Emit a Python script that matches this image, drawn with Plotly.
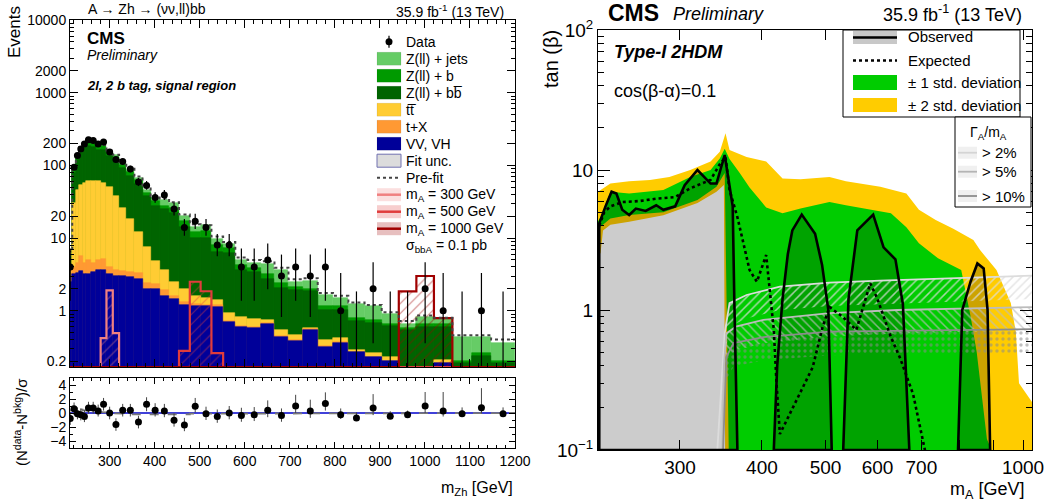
import math
import numpy as np
import plotly.graph_objects as go

W, H = 1062, 501
FONT = "Liberation Sans"

# ===================== LEFT PANEL DATA (m_Zh distribution) =====================
bin_edges = [208, 217, 225, 232, 240, 248, 258, 269, 280, 293, 307, 321, 337, 355,
             373, 391, 411, 432, 454, 478, 502, 526, 552, 579, 606, 636, 666, 697,
             729, 762, 796, 830, 866, 904, 942, 981, 1020, 1061, 1104, 1147, 1200]
data_counts = [4, 94, 137, 168, 197, 225, 219, 197, 209, 153,
               120, 113, 89, 59, 53, 36, 39, 25, 14, 17,
               14, 8, 8, 4, 4, 5, 3, 4, 3, 4,
               1, 0, 2, 0, 0, 2, 1, 0, 1, 0]
vv_vh = [2.5, 3.2, 3.3, 3.5, 3.2, 3.2, 3.4, 3.6, 3.6, 3.2,
         3.0, 3.0, 2.9, 2.7, 2.0, 2.0, 1.6, 1.45, 1.2, 1.17,
         1.15, 1.13, 0.7, 0.6, 0.58, 0.66, 0.44, 0.38, 0.55, 0.32,
         0.36, 0.27, 0.23, 0.2, 0.08, 0.08, 0.19, 0.04, 0.04, 0.04]
t_x = [0.5, 0.8, 1.2, 2.1, 1.3, 1.8, 1.2, 1.4, 1.6, 0.8,
       0.6, 0.5, 0.5, 0.6, 0.4, 0.3, 0.3, 0.15, 0.1, 0.08,
       0.05, 0.05, 0.02, 0.02, 0.02, 0.02, 0.01, 0.01, 0.01, 0.01,
       0.01, 0, 0, 0, 0, 0, 0, 0, 0, 0]
ttbar = [1.0, 26, 41.5, 48.4, 53.5, 55, 56.4, 56, 52.8, 46,
         34.4, 22.5, 14.6, 8.7, 5.1, 2.5, 1.7, 0.9, 0.7, 0.35,
         0.3, 0.24, 0.21, 0.2, 0.17, 0.07, 0.1, 0.08, 0.01, 0.07,
         0.05, 0.02, 0.03, 0.03, 0.02, 0.02, 0.02, 0.01, 0.01, 0.01]
z_bb = [1.0, 48, 74, 96, 114, 125, 119, 104, 107, 83,
        80, 66, 54, 44, 30.5, 23.2, 21.4, 19.5, 12, 8.4,
        8.5, 5.1, 5.3, 2.8, 2.6, 1.95, 1.5, 1.43, 1.27, 0.63,
        0.61, 0.42, 0.42, 0.38, 0.45, 0.5, 0.39, 0.14, 0.19, 0.14]
z_b = [0.5, 6, 10, 12, 16, 18, 18, 17, 17, 13,
       12, 10, 8, 7, 4, 4, 3, 4, 3, 2,
       2.5, 1.5, 1.0, 0.6, 0.5, 0.5, 0.35, 0.2, 0.16, 0.12,
       0.12, 0.09, 0.07, 0.05, 0.03, 0.05, 0.05, 0.01, 0.02, 0.01]
z_jets = [0.5, 6, 8, 9, 12, 12, 12, 11, 10, 9,
          8, 7, 6, 5, 4, 3, 5, 4, 3, 2,
          2.5, 1.6, 1.1, 0.7, 0.7, 1.2, 1.2, 0.4, 0.6, 0.5,
          0.35, 0.45, 0.4, 0.24, 0.08, 0.17, 0.12, 0.23, 0.17, 0.16]
prefit_total = [6.5, 95, 145, 178, 205, 218, 212, 198, 190, 160,
                140, 112, 90, 70, 50, 38, 35, 31, 21, 15.5,
                15, 10.5, 8.8, 5.4, 5.0, 4.8, 3.9, 2.7, 2.8, 1.75,
                1.6, 1.3, 1.2, 0.95, 0.72, 0.86, 0.8, 0.46, 0.46, 0.4]
sig_300 = [0, 0, 0, 0, 0, 0, 0, 0, 0.42, 1.9,
           0.49, 0, 0, 0, 0, 0, 0, 0, 0, 0,
           0, 0, 0, 0, 0, 0, 0, 0, 0, 0,
           0, 0, 0, 0, 0, 0, 0, 0, 0, 0]
sig_500 = [0, 0, 0, 0, 0, 0, 0, 0, 0, 0,
           0, 0, 0, 0, 0, 0, 0, 0, 0.28, 2.5,
           1.85, 0.26, 0, 0, 0, 0, 0, 0, 0, 0,
           0, 0, 0, 0, 0, 0, 0, 0, 0, 0]
sig_1000 = [0, 0, 0, 0, 0, 0, 0, 0, 0, 0,
            0, 0, 0, 0, 0, 0, 0, 0, 0, 0,
            0, 0, 0, 0, 0, 0, 0, 0, 0, 0,
            0, 0, 0, 0, 1.84, 3.0, 0.79, 0, 0, 0]
pull = [-0.8, 0.6, -0.1, -0.25, -0.5, 0.7, 0.7, 0.3, 1.25, 0.0,
        -1.65, 0.4, 0.4, -1.3, 1.25, 0.4, 0.3, -1.05, -1.7, 0.95,
        -0.1, -0.5, 0.0, -0.35, -0.25, 0.4, -0.35, 1.0, 0.3, 1.35,
        -0.25, -0.7, 0.7, -0.45, -0.25, 1.0, 0.3, -0.1, 0.75, -0.1]
pull_err_up = [1.0, 0.9, 0.9, 0.9, 0.9, 0.9, 0.9, 0.9, 0.9, 0.9,
               0.9, 0.9, 0.9, 0.9, 1.0, 1.0, 1.0, 1.0, 1.0, 1.2,
               1.0, 1.0, 1.0, 1.1, 1.1, 1.4, 1.0, 1.6, 1.6, 1.6,
               0.9, 0.8, 2.0, 0.7, 0.6, 2.0, 2.7, 0.9, 2.8, 0.9]
pull_err_dn = [0.9, 0.9, 0.8, 0.8, 0.8, 0.8, 0.8, 0.8, 0.9, 0.9,
               0.9, 0.9, 0.9, 0.9, 1.0, 0.9, 0.9, 0.9, 0.9, 0.9,
               0.9, 0.9, 0.9, 0.9, 0.9, 1.0, 0.9, 1.0, 1.0, 1.0,
               0.6, 0.0, 1.0, 0.0, 0.0, 1.0, 0.8, 0.0, 0.8, 0.0]
prefit_pull = [0.4, 0.9, 0.6, 0.5, 0.4, 0.3, 0.2, 0.1, 0.1, 0.0,
               0.0, -0.1, -0.2, -0.25, -0.2, -0.2, -0.25, -0.25, -0.2, -0.1,
               -0.1, -0.1, 0.0, 0.0, 0.0, 0.0, 0.0, 0.0, 0.0, 0.0,
               0.0, 0.0, 0.0, 0.0, 0.0, 0.0, 0.0, 0.0, 0.0, 0.0]
main_yticks = [0.2, 1, 2, 10, 20, 100, 200, 1000, 2000, 10000]
ratio_yticks = [-4, -2, 0, 2, 4]
ratio_xticks = [300, 400, 500, 600, 700, 800, 900, 1000, 1100, 1200]

# ===================== RIGHT PANEL DATA (tan(beta) vs m_A limits) =====================
exp_p2_x = [225, 227, 235, 251, 270, 289, 311, 334, 345, 352, 357, 379, 406, 430, 458,
            507, 537, 606, 664, 694, 736, 783, 840, 860, 911, 958, 975, 986, 1032]
exp_p2_y = [7.0, 7.2, 8.0, 8.3, 8.5, 8.9, 10.0, 11.5, 13.5, 18.3, 13.9, 12.4, 11.5, 8.7, 8.6,
            8.9, 8.3, 7.6, 6.8, 5.2, 4.4, 3.8, 3.16, 2.68, 1.93, 1.12, 0.7, 0.3, 0.22]
exp_m2_x = [225, 227, 229, 235, 251, 283, 319, 341, 350, 351.5, 1032]
exp_m2_y = [2.5, 2.54, 3.7, 4.06, 4.27, 4.76, 5.8, 7.0, 7.8, 0.1, 0.1]
exp_p1_x = [225, 227, 235, 251, 283, 311, 334, 345, 351, 357, 370, 383, 406, 430, 458,
            507, 537, 570, 629, 664, 694, 742, 805, 832, 850, 881, 895]
exp_p1_y = [4.3, 4.6, 7.0, 6.8, 7.2, 8.9, 10.0, 12.1, 14.2, 12.0, 9.5, 7.5, 5.4, 4.9, 5.3,
            5.9, 5.6, 5.3, 4.9, 3.9, 3.0, 2.34, 1.93, 0.9, 0.5, 0.12, 0.1]
exp_m1_x = [225, 227, 235, 251, 283, 319, 341, 351, 356, 1032]
exp_m1_y = [3.5, 3.94, 4.5, 4.77, 5.0, 6.1, 7.6, 9.5, 0.1, 0.1]
exp_x = [226, 230, 235, 245, 260, 277, 295, 311, 334, 345, 352, 357, 367, 383, 393, 406,
         417, 421, 426, 452, 478, 495, 507, 530, 557, 585, 600, 629, 650, 680, 700, 712]
exp_y = [4.0, 5.0, 5.5, 5.9, 6.0, 6.25, 6.4, 7.4, 8.5, 11.0, 12.4, 7.2, 4.6, 1.93, 1.59, 2.47,
         0.72, 0.3, 0.13, 0.23, 0.39, 0.76, 1.05, 0.9, 0.72, 1.55, 1.2, 0.64, 0.45, 0.25, 0.13, 0.09]
obs_a_x = [226, 226, 231, 236, 240, 245, 251, 257, 266, 276, 283, 295, 305, 319, 334, 341,
           351, 361, 363, 367]
obs_a_y = [0.1, 4.16, 5.5, 7.0, 6.8, 5.2, 4.77, 5.3, 5.1, 5.6, 5.2, 5.5, 7.8, 10.0, 8.0, 8.0,
           12.8, 5.5, 1.2, 0.1]
obs_b_x = [417, 422, 430, 438, 445, 460, 482, 494, 505, 511]
obs_b_y = [0.1, 0.4, 1.2, 2.5, 3.7, 4.8, 3.5, 2.1, 1.0, 0.1]
obs_c_x = [532, 542, 559, 591, 613, 639, 656, 671]
obs_c_y = [0.1, 1.2, 3.7, 4.8, 2.8, 2.3, 1.1, 0.1]
obs_d_x = [796, 808, 832, 852, 871, 883, 891]
obs_d_y = [0.1, 1.0, 1.6, 2.15, 1.98, 1.0, 0.1]
w2_x = [342, 348, 351, 357, 379, 426, 507, 606, 764, 1032]
w2_y = [0.1, 0.39, 0.68, 1.12, 1.28, 1.47, 1.57, 1.62, 1.68, 1.76]
w5_x = [348, 350, 353, 365, 402, 507, 643, 1032]
w5_y = [0.1, 0.4, 0.68, 0.76, 0.85, 0.95, 1.0, 1.05]
w10_x = [349, 353, 362, 402, 507, 642, 1032]
w10_y = [0.1, 0.46, 0.58, 0.64, 0.70, 0.71, 0.73]
right_xticks = [300, 400, 500, 600, 700, 800, 900, 1000]
right_xticktext = ["300", "400", "500", "600", "700", "", "", "1000"]
right_yticks = [0.1, 1, 10, 100]
right_yticktext = ["10<sup>\u22121</sup>", "1", "10", "10<sup>2</sup>"]

# ===================== STYLE / LAYOUT CONSTANTS =====================
LEFT_X = [212, 1200]
LEFT_Y_LOG = [-0.775, 4.0]
RIGHT_X_LOG = [math.log10(225), math.log10(1032)]
RIGHT_Y_LOG = [-1, 2]
LX_DOM = [70 / W, 515 / W]
LMAIN_Y_DOM = [1 - 367 / H, 1 - 20 / H]
LRATIO_Y_DOM = [1 - 448 / H, 1 - 378 / H]
RX_DOM = [598 / W, 1032 / W]
RY_DOM = [1 - 450 / H, 1 - 30 / H]
HATCH_BAND = 0.68   # hatched width band spans one factor of this below each line

C_ZJ, C_ZB, C_ZBB = "#66cc66", "#009a00", "#006400"
C_TT, C_TX, C_VV = "#ffcc33", "#ff9933", "#000099"
C_S300, C_S500, C_S1000 = "#f08080", "#e03c3c", "#a00000"
C_YEL, C_GRN = "#ffcc00", "#00cc00"

edges = np.array(bin_edges, dtype=float)
centers = 0.5 * (edges[:-1] + edges[1:])
widths = edges[1:] - edges[:-1]
floor_val = 10 ** LEFT_Y_LOG[0]

fig = go.Figure()

# ---- stacked backgrounds (cumulative, drawn from top layer down) ----
layers = [vv_vh, t_x, ttbar, z_bb, z_b, z_jets]
layer_cols = [C_VV, C_TX, C_TT, C_ZBB, C_ZB, C_ZJ]
cum = np.cumsum(np.array(layers, dtype=float), axis=0)
for i in range(len(layers) - 1, -1, -1):
    fig.add_trace(go.Bar(x=centers, y=cum[i], width=widths,
                         marker=dict(color=layer_cols[i], line=dict(color=layer_cols[i], width=0.6)),
                         xaxis="x", yaxis="y"))


def step(vals, fl=None):
    xs, ys = [], []
    for i, v in enumerate(vals):
        yv = v if (fl is None or v > 0) else fl
        xs += [edges[i], edges[i + 1]]
        ys += [yv, yv]
    return xs, ys


# ---- signals: hatched fill + outline ----
for sig, col in [(sig_300, C_S300), (sig_500, C_S500), (sig_1000, C_S1000)]:
    yv = [v if v > 0 else None for v in sig]
    fig.add_trace(go.Bar(x=centers, y=yv, width=widths,
                         marker=dict(color="rgba(0,0,0,0)", line=dict(width=0),
                                     pattern=dict(shape="/", fgcolor=col, bgcolor="rgba(0,0,0,0)",
                                                  size=7, solidity=0.15)),
                         xaxis="x", yaxis="y"))
    sx, sy = step(sig, floor_val)
    fig.add_trace(go.Scatter(x=sx, y=sy, mode="lines", line=dict(color=col, width=2.2),
                             xaxis="x", yaxis="y"))

# ---- pre-fit dotted ----
px_, py_ = step(prefit_total)
fig.add_trace(go.Scatter(x=px_, y=py_, mode="lines", line=dict(color="#444444", width=2, dash="dot"),
                         xaxis="x", yaxis="y"))

# ---- data with Garwood-like Poisson errors ----
GARWOOD_LO = [0.0, 0.173, 0.355, 0.818, 1.366, 1.970]
GARWOOD_HI = [1.841, 3.300, 4.638, 5.918, 7.163, 8.382]
d_y, e_up, e_dn = [], [], []
zx, zy = [], []
for c, n in zip(centers, data_counts):
    if n <= 5:
        lo, hi = GARWOOD_LO[n], GARWOOD_HI[n]
    else:
        s = math.sqrt(n + 0.25)
        lo, hi = n - (s - 0.5), n + s + 0.5
    if n == 0:
        d_y.append(None); e_up.append(0); e_dn.append(0)
        zx += [c, c, None]; zy += [floor_val, hi, None]
    else:
        d_y.append(n); e_up.append(hi - n); e_dn.append(n - lo)
fig.add_trace(go.Scatter(x=zx, y=zy, mode="lines", line=dict(color="black", width=1.2),
                         xaxis="x", yaxis="y"))
fig.add_trace(go.Scatter(x=centers, y=d_y, mode="markers",
                         marker=dict(color="black", size=7),
                         error_y=dict(type="data", array=e_up, arrayminus=e_dn, color="black",
                                      thickness=1.2, width=0),
                         xaxis="x", yaxis="y"))

# ---- ratio panel ----
rx, ry = step(prefit_pull)
fig.add_trace(go.Scatter(x=rx, y=ry, mode="lines", line=dict(color="#777777", width=1.8, dash="dash"),
                         xaxis="x2", yaxis="y2"))
fig.add_trace(go.Scatter(x=centers, y=pull, mode="markers",
                         marker=dict(color="black", size=7),
                         error_y=dict(type="data", array=pull_err_up, arrayminus=pull_err_dn,
                                      color="#444444", thickness=1, width=0),
                         xaxis="x2", yaxis="y2"))

# ===================== RIGHT PANEL TRACES =====================
def band(px_list, py_list, mx_list, my_list, col):
    return go.Scatter(x=list(px_list) + list(mx_list)[::-1], y=list(py_list) + list(my_list)[::-1],
                      mode="lines", fill="toself", fillcolor=col, line=dict(width=0),
                      xaxis="x3", yaxis="y3")


fig.add_trace(band(exp_p2_x, exp_p2_y, exp_m2_x, exp_m2_y, C_YEL))
fig.add_trace(band(exp_p1_x, exp_p1_y, exp_m1_x, exp_m1_y, C_GRN))

obs_regions = [(obs_a_x, obs_a_y), (obs_b_x, obs_b_y), (obs_c_x, obs_c_y), (obs_d_x, obs_d_y)]
for ox, oy in obs_regions:
    fig.add_trace(go.Scatter(x=ox, y=oy, mode="lines", fill="toself", fillcolor="rgba(0,0,0,0.2)",
                             line=dict(width=0), xaxis="x3", yaxis="y3"))

width_curves = [(w2_x, w2_y, "#dcdcdc", "/", 0.75), (w5_x, w5_y, "#bcbcbc", "\\", 0.7),
                (w10_x, w10_y, "#8c8c8c", ".", 0.55)]
for wx, wy, col, shp, op in width_curves:
    lower = [max(v * HATCH_BAND, 0.1) for v in wy]
    fig.add_trace(go.Scatter(x=list(wx) + list(wx)[::-1], y=list(wy) + lower[::-1], mode="lines",
                             fill="toself", fillcolor="rgba(0,0,0,0)",
                             fillpattern=dict(shape=shp, fgcolor=col, bgcolor="rgba(0,0,0,0)",
                                              size=6, solidity=0.25, fgopacity=op),
                             line=dict(width=0), xaxis="x3", yaxis="y3"))
for wx, wy, col, shp, op in width_curves:
    fig.add_trace(go.Scatter(x=wx, y=wy, mode="lines", line=dict(color=col, width=1.8),
                             xaxis="x3", yaxis="y3"))

fig.add_trace(go.Scatter(x=exp_x, y=exp_y, mode="lines",
                         line=dict(color="black", width=2.6, dash="3px,3px"),
                         xaxis="x3", yaxis="y3"))
for ox, oy in obs_regions:
    fig.add_trace(go.Scatter(x=list(ox) + [ox[0]], y=list(oy) + [oy[0]], mode="lines",
                             line=dict(color="black", width=2.6), xaxis="x3", yaxis="y3"))

# ===================== AXES =====================
axis_common = dict(showline=True, linecolor="black", linewidth=1, mirror="allticks",
                   ticks="inside", tickcolor="black", showgrid=False, zeroline=False,
                   automargin=False)
log_minor_left = [m * 10 ** d for d in range(-1, 4) for m in range(2, 10)]
log_minor_right = [m * 10 ** d for d in range(-1, 2) for m in range(2, 10)]

fig.update_layout(
    width=W, height=H, margin=dict(l=0, r=0, t=0, b=0),
    paper_bgcolor="white", plot_bgcolor="white", showlegend=False,
    barmode="overlay", bargap=0,
    font=dict(family=FONT, color="black"),
    xaxis=dict(domain=LX_DOM, anchor="y", range=LEFT_X, showticklabels=False,
               tickvals=ratio_xticks, ticklen=8,
               minor=dict(ticks="inside", ticklen=4, dtick=20, tick0=0, tickcolor="black"),
               **axis_common),
    yaxis=dict(domain=LMAIN_Y_DOM, anchor="x", type="log", range=LEFT_Y_LOG,
               tickvals=main_yticks, ticktext=[str(v) for v in main_yticks], ticklen=8,
               tickfont=dict(size=14, family=FONT),
               minor=dict(ticks="inside", ticklen=4, tickvals=log_minor_left, tickcolor="black"),
               **axis_common),
    xaxis2=dict(domain=LX_DOM, anchor="y2", range=LEFT_X, matches="x",
                tickvals=ratio_xticks, ticktext=[str(v) for v in ratio_xticks], ticklen=6,
                tickfont=dict(size=14, family=FONT),
                minor=dict(ticks="inside", ticklen=3, dtick=20, tick0=0, tickcolor="black"),
                **axis_common),
    yaxis2=dict(domain=LRATIO_Y_DOM, anchor="x2", range=[-5, 5], tickvals=ratio_yticks,
                ticktext=["\u22124", "\u22122", "0", "2", "4"], ticklen=6,
                tickfont=dict(size=14, family=FONT),
                minor=dict(ticks="inside", ticklen=3, dtick=1, tickcolor="black"),
                **axis_common),
    xaxis3=dict(domain=RX_DOM, anchor="y3", type="log", range=RIGHT_X_LOG,
                tickvals=right_xticks, ticktext=right_xticktext, ticklen=10,
                tickfont=dict(size=19, family=FONT), **axis_common),
    yaxis3=dict(domain=RY_DOM, anchor="x3", type="log", range=RIGHT_Y_LOG,
                tickvals=right_yticks, ticktext=right_yticktext, ticklen=12,
                tickfont=dict(size=19, family=FONT),
                minor=dict(ticks="inside", ticklen=6, tickvals=log_minor_right, tickcolor="black"),
                **axis_common),
)

# ===================== TEXT, LEGENDS =====================
shapes, annotations = [], []


def txt(x, y, text, size, xanchor="left", yanchor="middle", angle=0):
    annotations.append(dict(x=x / W, y=1 - y / H, xref="paper", yref="paper", text=text,
                            showarrow=False, xanchor=xanchor, yanchor=yanchor, textangle=angle,
                            font=dict(family=FONT, size=size, color="black")))


def rect(x0, y0, x1, y1, fill, line="rgba(0,0,0,0)", lw=0):
    shapes.append(dict(type="rect", xref="paper", yref="paper", x0=x0 / W, x1=x1 / W,
                       y0=1 - y1 / H, y1=1 - y0 / H, fillcolor=fill,
                       line=dict(color=line, width=lw), layer="above"))


def hline(x0, x1, y, color, width, dash="solid"):
    shapes.append(dict(type="line", xref="paper", yref="paper", x0=x0 / W, x1=x1 / W,
                       y0=1 - y / H, y1=1 - y / H, line=dict(color=color, width=width, dash=dash),
                       layer="above"))


def vline(x, y0, y1, color, width):
    shapes.append(dict(type="line", xref="paper", yref="paper", x0=x / W, x1=x / W,
                       y0=1 - y0 / H, y1=1 - y1 / H, line=dict(color=color, width=width),
                       layer="above"))


# ratio zero line
shapes.append(dict(type="line", xref="x2 domain", yref="y2", x0=0, x1=1, y0=0, y1=0,
                   line=dict(color="#0000cc", width=1.5), layer="below"))

# left panel texts
txt(86, 9, "A \u2192 Zh \u2192 (\u03bd\u03bd,ll)bb", 14)
txt(506, 11, "35.9 fb<sup>-1</sup> (13 TeV)", 14, xanchor="right")
txt(85, 38, "<b>CMS</b>", 17)
txt(85, 55, "<i>Preliminary</i>", 14)
txt(85, 86, "<b><i>2l, 2 b tag, signal region</i></b>", 13)
txt(15, 4, "Events", 17, xanchor="center", yanchor="top", angle=-90)
txt(20, 422, "(N<sup>data</sup>-N<sup>bkg</sup>)/\u03c3", 15, xanchor="center", angle=-90)
txt(515, 488, "m<sub>Zh</sub> [GeV]", 16, xanchor="right")

# left legend
LX0, LX1, LTX = 377, 401, 404
items = [("data", "Data"), (C_ZJ, "Z(ll) + jets"), (C_ZB, "Z(ll) + b"),
         (C_ZBB, "Z(ll) + bb\u0305"), (C_TT, "tt\u0305"), (C_TX, "t+X"), (C_VV, "VV, VH"),
         ("fit", "Fit unc."), ("prefit", "Pre-fit"),
         (C_S300, "m<sub>A</sub> = 300 GeV"), (C_S500, "m<sub>A</sub> = 500 GeV"),
         (C_S1000, "m<sub>A</sub> = 1000 GeV")]
for k, (kind, label) in enumerate(items):
    yc = 41.7 + 17.0 * k
    if kind == "data":
        vline(389, yc - 6, yc + 6, "black", 1.2)
        shapes.append(dict(type="circle", xref="paper", yref="paper", x0=(389 - 3.5) / W,
                           x1=(389 + 3.5) / W, y0=1 - (yc + 3.5) / H, y1=1 - (yc - 3.5) / H,
                           fillcolor="black", line=dict(color="black", width=0), layer="above"))
    elif kind == "fit":
        rect(LX0, yc - 6.5, LX1, yc + 6.5, "#dcdcdc", "#7070b0", 1)
    elif kind == "prefit":
        hline(LX0, LX1, yc, "#444444", 2, "dot")
    elif kind in (C_S300, C_S500, C_S1000):
        r, g, b = int(kind[1:3], 16), int(kind[3:5], 16), int(kind[5:7], 16)
        rect(LX0, yc - 6.5, LX1, yc + 6.5, f"rgba({r},{g},{b},0.25)")
        hline(LX0, LX1, yc, kind, 2.5)
    else:
        rect(LX0, yc - 6.5, LX1, yc + 6.5, kind, "rgba(0,0,0,0.15)", 0.5)
    txt(LTX, yc, label, 14)
txt(LTX, 41.7 + 17.0 * 12, "\u03c3<sub>bbA</sub> = 0.1 pb", 14)

# right panel texts
txt(606, 13, "<b>CMS</b>", 23)
txt(671, 14, "<i>Preliminary</i>", 18)
txt(1024, 14, "35.9 fb<sup>-1</sup> (13 TeV)", 18, xanchor="right")
txt(612, 52, "<b><i>Type-I 2HDM</i></b>", 18)
txt(612, 91, "cos(\u03b2-\u03b1)=0.1", 18)
txt(551, 28, "tan (\u03b2)", 20, xanchor="center", yanchor="top", angle=-90)
txt(1026, 490, "m<sub>A</sub> [GeV]", 18, xanchor="right")

# right legend box
rect(843, 30, 1020, 117, "white", "black", 1)
rect(853, 31, 897, 44, "#c8c8c8")
hline(853, 897, 37.5, "black", 2.6)
txt(906, 37, "Observed", 15)
hline(853, 897, 60.5, "black", 2.4, "dot")
txt(906, 60.5, "Expected", 15)
rect(853, 75, 897, 90, C_GRN)
txt(906, 82.5, "\u00b1 1 std. deviation", 15)
rect(853, 98, 897, 112, C_YEL)
txt(906, 105, "\u00b1 2 std. deviation", 15)

# Gamma_A / m_A legend box
rect(955, 117, 1031, 207, "white", "black", 1)
txt(988, 133, "\u0393<sub>A</sub>/m<sub>A</sub>", 14, xanchor="center")
for yc, col, lab in [(152.7, "#d4d4d4", "> 2%"), (171.7, "#b4b4b4", "> 5%"), (196, "#8c8c8c", "> 10%")]:
    rect(958, yc - 6, 977, yc + 6, "#f0f0f0")
    hline(958, 977, yc, col, 1.8)
    txt(980, yc, lab, 15)

fig.update_layout(shapes=shapes, annotations=annotations)
fig.write_html("out.html")
